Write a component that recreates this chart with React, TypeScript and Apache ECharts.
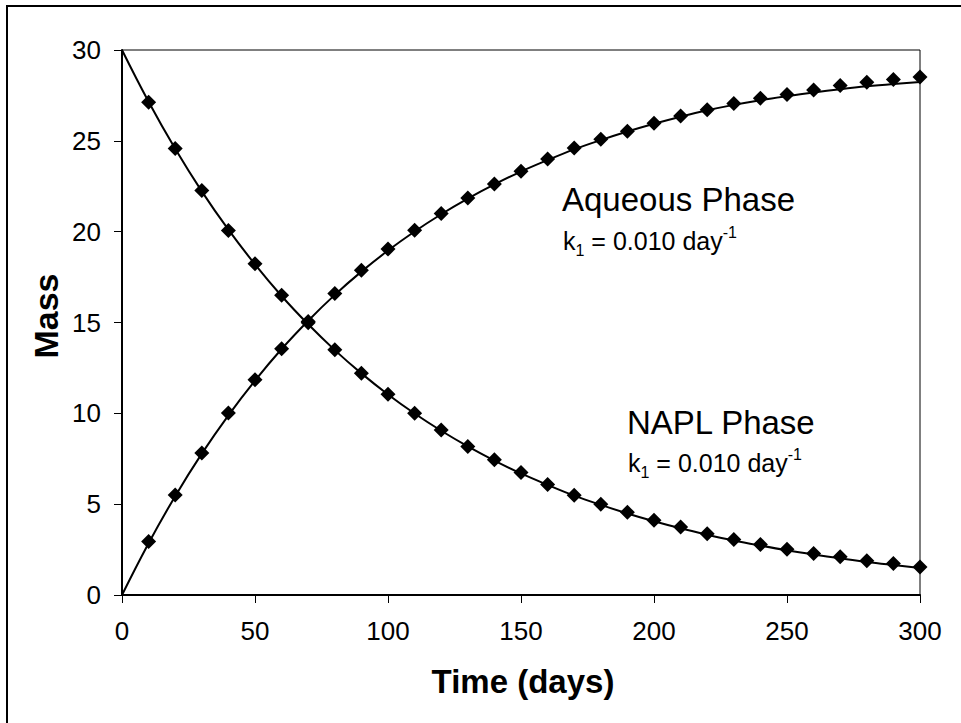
import React, { useEffect, useRef } from "react";
import * as echarts from "echarts";

const timeObs = [10, 20, 30, 40, 50, 60, 70, 80, 90, 100, 110, 120, 130, 140, 150, 160, 170, 180, 190, 200, 210, 220, 230, 240, 250, 260, 270, 280, 290, 300];
const naplObs = [27.13, 24.58, 22.26, 20.06, 18.23, 16.5, 14.99, 13.5, 12.2, 11.05, 10.0, 9.08, 8.17, 7.45, 6.75, 6.08, 5.49, 5.0, 4.55, 4.11, 3.75, 3.37, 3.06, 2.78, 2.52, 2.29, 2.1, 1.89, 1.73, 1.54];
const aqueousObs = [2.95, 5.5, 7.82, 10.02, 11.85, 13.56, 15.05, 16.6, 17.88, 19.04, 20.08, 21.0, 21.85, 22.63, 23.33, 24.0, 24.6, 25.09, 25.53, 25.97, 26.37, 26.71, 27.05, 27.35, 27.55, 27.8, 28.04, 28.23, 28.38, 28.52];

const timeFit = [0, 10, 20, 30, 40, 50, 60, 70, 80, 90, 100, 110, 120, 130, 140, 150, 160, 170, 180, 190, 200, 210, 220, 230, 240, 250, 260, 270, 280, 290, 300, 305];
const naplFit = [30, 27.15, 24.56, 22.22, 20.11, 18.2, 16.46, 14.9, 13.48, 12.2, 11.04, 9.99, 9.04, 8.18, 7.4, 6.69, 6.06, 5.47, 4.96, 4.49, 4.06, 3.67, 3.32, 3.0, 2.72, 2.46, 2.23, 2.02, 1.82, 1.65, 1.49, 1.42];
const aqueousFit = [0, 2.85, 5.44, 7.78, 9.89, 11.8, 13.54, 15.1, 16.52, 17.8, 18.96, 20.01, 20.96, 21.82, 22.6, 23.31, 23.94, 24.53, 25.04, 25.51, 25.94, 26.33, 26.68, 26.98, 27.24, 27.46, 27.66, 27.84, 28.0, 28.13, 28.24, 28.3];

const yTicks = { min: 0, max: 30, interval: 5 };
const xTicks = { min: 0, max: 300, interval: 50 };

const FONT = "'Liberation Sans', Arial, Helvetica, sans-serif";

export default function App() {
  const ref = useRef<HTMLDivElement>(null);
  useEffect(() => {
    if (!ref.current) return;
    const chart = echarts.init(ref.current, null, { renderer: "svg" });
    const pair = (xs: number[], ys: number[]) => xs.map((x, i) => [x, ys[i]]);
    const kRich = {
      k: { fontSize: 25, lineHeight: 34, fontFamily: FONT, fill: "#000" },
      sub: { fontSize: 16, lineHeight: 16, verticalAlign: "bottom", fontFamily: FONT, fill: "#000" },
      sup: { fontSize: 16, lineHeight: 16, verticalAlign: "top", fontFamily: FONT, fill: "#000" },
    };
    const kText = "{k|k}{sub|1}{k| = 0.010 day}{sup|-1}";
    chart.setOption({
      animation: false,
      backgroundColor: "#fff",
      grid: {
        left: 122,
        top: 50,
        right: 41,
        bottom: 128,
        show: true,
        borderColor: "#000",
        borderWidth: 1,
        backgroundColor: "transparent",
      },
      xAxis: {
        type: "value",
        min: xTicks.min,
        max: xTicks.max,
        interval: xTicks.interval,
        axisLine: { show: true, lineStyle: { color: "#000", width: 2 } },
        axisTick: { show: true, inside: false, length: 8, lineStyle: { color: "#000", width: 1 } },
        axisLabel: { fontSize: 26, color: "#000", fontFamily: FONT, margin: 23 },
        splitLine: { show: false },
      },
      yAxis: {
        type: "value",
        min: yTicks.min,
        max: yTicks.max,
        interval: yTicks.interval,
        axisLine: { show: true, lineStyle: { color: "#000", width: 2 } },
        axisTick: { show: true, inside: false, length: 8, lineStyle: { color: "#000", width: 1 } },
        axisLabel: { fontSize: 26, color: "#000", fontFamily: FONT, margin: 21 },
        splitLine: { show: false },
      },
      series: [
        {
          name: "NAPL fit",
          type: "line",
          data: pair(timeFit, naplFit),
          smooth: 0.4,
          showSymbol: false,
          clip: false,
          lineStyle: { color: "#000", width: 2 },
          z: 2,
        },
        {
          name: "Aqueous fit",
          type: "line",
          data: pair(timeFit, aqueousFit),
          smooth: 0.4,
          showSymbol: false,
          clip: false,
          lineStyle: { color: "#000", width: 2 },
          z: 2,
        },
        {
          name: "NAPL Phase",
          type: "scatter",
          data: pair(timeObs, naplObs),
          symbol: "diamond",
          symbolSize: 15,
          itemStyle: { color: "#000", opacity: 1 },
          clip: false,
          z: 3,
        },
        {
          name: "Aqueous Phase",
          type: "scatter",
          data: pair(timeObs, aqueousObs),
          symbol: "diamond",
          symbolSize: 15,
          itemStyle: { color: "#000", opacity: 1 },
          clip: false,
          z: 3,
        },
      ],
      graphic: [
        {
          type: "rect",
          shape: { x: 7, y: 6, width: 980, height: 740 },
          style: { fill: "none", stroke: "#000", lineWidth: 2 },
          silent: true,
        },
        {
          type: "text",
          x: 46,
          y: 316,
          rotation: Math.PI / 2,
          style: {
            text: "Mass",
            fontSize: 34,
            fontWeight: "bold",
            fontFamily: FONT,
            fill: "#000",
            align: "center",
            verticalAlign: "middle",
          },
        },
        {
          type: "text",
          x: 523,
          y: 681,
          style: {
            text: "Time (days)",
            fontSize: 33,
            fontWeight: "bold",
            fontFamily: FONT,
            fill: "#000",
            align: "center",
            verticalAlign: "middle",
          },
        },
        {
          type: "text",
          x: 562,
          y: 199,
          style: {
            text: "Aqueous Phase",
            fontSize: 33,
            fontFamily: FONT,
            fill: "#000",
            align: "left",
            verticalAlign: "middle",
          },
        },
        {
          type: "text",
          x: 563,
          y: 241,
          style: {
            text: kText,
            rich: kRich,
            align: "left",
            verticalAlign: "middle",
          },
        },
        {
          type: "text",
          x: 627,
          y: 422,
          style: {
            text: "NAPL Phase",
            fontSize: 33,
            fontFamily: FONT,
            fill: "#000",
            align: "left",
            verticalAlign: "middle",
          },
        },
        {
          type: "text",
          x: 628,
          y: 463,
          style: {
            text: kText,
            rich: kRich,
            align: "left",
            verticalAlign: "middle",
          },
        },
      ],
    });
    return () => chart.dispose();
  }, []);
  return (
    <div
      ref={ref}
      style={{ position: "fixed", left: 0, top: 0, width: 961, height: 723, background: "#fff" }}
    />
  );
}
